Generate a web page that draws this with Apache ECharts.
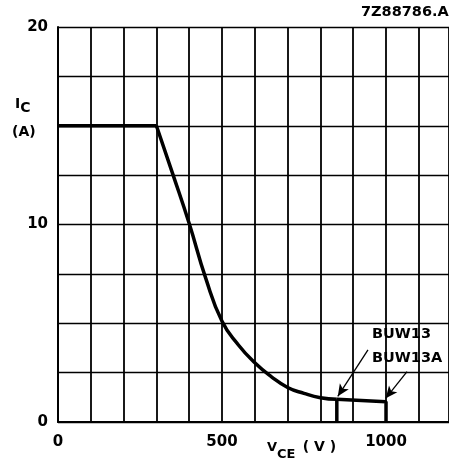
<!DOCTYPE html>
<html>
<head>
<meta charset="utf-8">
<script src="https://cdn.jsdelivr.net/npm/echarts@6/dist/echarts.min.js"></script>
<style>
  html, body { margin: 0; padding: 0; background: #fff; }
  #chart { width: 449px; height: 467px; }
</style>
</head>
<body>
<div id="chart"></div>
<script>
// safe operating area (V, A)
var flatX = [0, 300];
var flatY = [15, 15];
var curveX = [300, 350, 400, 450, 500, 550, 600, 650, 700, 750, 800, 850];
var curveY = [15, 12.55, 10.05, 7.3, 5.1, 3.9, 3.0, 2.3, 1.75, 1.45, 1.23, 1.15];
// BUW13A continues to 1000 V, BUW13 stops at 850 V
var tailX = [850, 1000, 1000];
var tailY = [1.15, 1.03, 0];
var buw13X = [850, 850];
var buw13Y = [1.15, 0];
var yTickLabels = [0, 10, 20];
var xTickLabels = [0, 500, 1000];

var font = '"DejaVu Sans", sans-serif';

function pairs(xs, ys) {
	var out = [];
	for (var i = 0; i < xs.length; i++) {
		out.push([xs[i], ys[i]]);
	}
	return out;
}

var thick = { color: '#000', width: 3.5 };

var myChart = echarts.init(document.getElementById('chart'));
var options = {
	animation: false,
	backgroundColor: '#fff',
	grid: { left: 58, top: 27, right: 0, bottom: 45 },
	xAxis: {
		type: 'value',
		min: 0,
		max: 1192,
		interval: 100,
		axisLine: { show: true, lineStyle: { color: '#000', width: 2 } },
		axisTick: { show: false },
		splitLine: { show: true, lineStyle: { color: '#000', width: 1.8 } },
		axisLabel: {
			showMaxLabel: false,
			margin: 13,
			color: '#000',
			fontFamily: font,
			fontWeight: 'bold',
			fontSize: 15,
			formatter: function(v) {
				return xTickLabels.indexOf(v) >= 0 ? String(v) : '';
			}
		}
	},
	yAxis: {
		type: 'value',
		min: 0,
		max: 20,
		interval: 2.5,
		axisLine: { show: true, lineStyle: { color: '#000', width: 2 } },
		axisTick: { show: false },
		splitLine: { show: true, lineStyle: { color: '#000', width: 1.4 } },
		axisLabel: {
			margin: 10,
			color: '#000',
			fontFamily: font,
			fontWeight: 'bold',
			fontSize: 15,
			formatter: function(v) {
				return yTickLabels.indexOf(v) >= 0 ? String(v) : '';
			}
		}
	},
	series: [{
		type: 'line',
		data: pairs(flatX, flatY),
		symbol: 'none',
		lineStyle: thick
	}, {
		type: 'line',
		data: pairs(curveX, curveY),
		symbol: 'none',
		smooth: 0.5,
		lineStyle: thick,
		markLine: {
			silent: true,
			symbol: ['none', 'arrow'],
			symbolSize: [8, 12],
			lineStyle: { color: '#000', width: 1.3, type: 'solid' },
			label: { show: false },
			data: [
				[{ coord: [945, 3.65] }, { coord: [853, 1.3] }],
				[{ coord: [1064, 2.55] }, { coord: [999, 1.2] }]
			]
		}
	}, {
		type: 'line',
		data: pairs(tailX, tailY),
		symbol: 'none',
		lineStyle: thick
	}, {
		type: 'line',
		data: pairs(buw13X, buw13Y),
		symbol: 'none',
		lineStyle: thick
	}],
	graphic: [{
		type: 'text', left: 361, top: 5,
		style: { text: '7Z88786.A', font: 'bold 14.5px ' + font, fill: '#000' }
	}, {
		type: 'text', left: 372, top: 327,
		style: { text: 'BUW13', font: 'bold 14.5px ' + font, fill: '#000' }
	}, {
		type: 'text', left: 372, top: 351,
		style: { text: 'BUW13A', font: 'bold 14.5px ' + font, fill: '#000' }
	}, {
		type: 'text', left: 15, top: 97,
		style: {
			text: '{m|I}{s|C}',
			rich: {
				m: { font: 'bold 14px ' + font, fill: '#000' },
				s: { font: 'bold 14px ' + font, fill: '#000', padding: [9, 0, 0, 0] }
			}
		}
	}, {
		type: 'text', left: 12, top: 125,
		style: { text: '(A)', font: 'bold 14px ' + font, fill: '#000' }
	}, {
		type: 'text', left: 267, top: 440,
		style: {
			text: '{m|V}{s|CE} {p|( V )}',
			rich: {
				m: { font: 'bold 13px ' + font, fill: '#000', padding: [0, 0, 4, 0] },
				s: { font: 'bold 13px ' + font, fill: '#000', padding: [10, 0, 0, 0] },
				p: { font: 'bold 14px ' + font, fill: '#000', padding: [0, 0, 6, 4] }
			}
		}
	}]
};
myChart.setOption(options, true);
</script>
</body>
</html>
